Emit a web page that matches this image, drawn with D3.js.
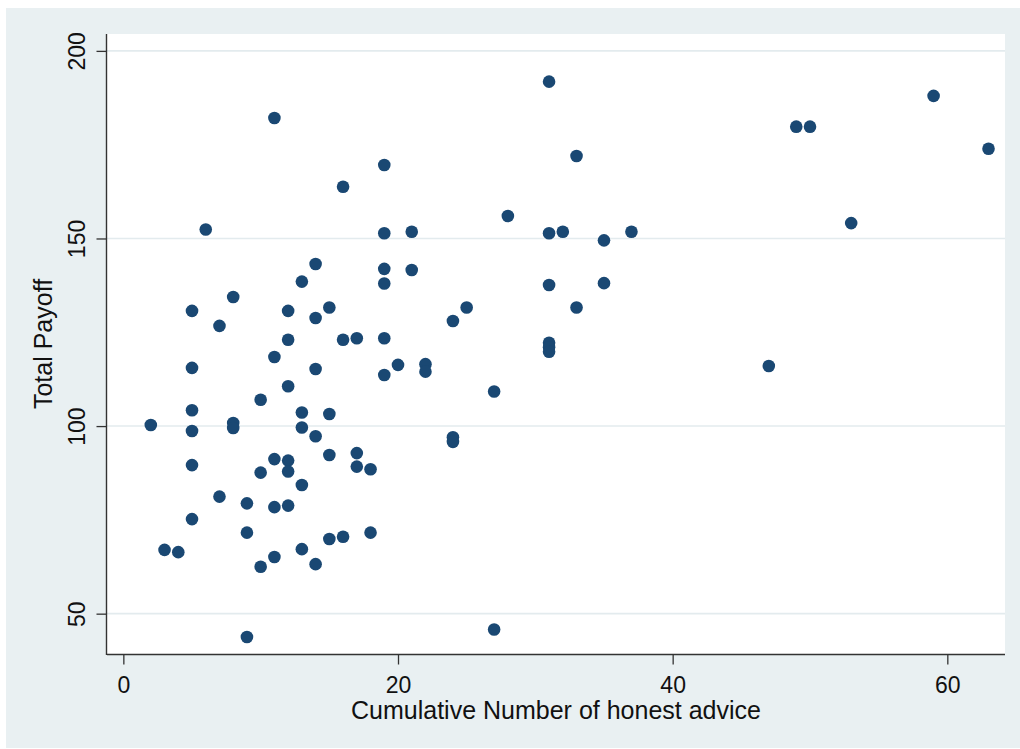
<!DOCTYPE html>
<html>
<head>
<meta charset="utf-8">
<script src="https://cdn.jsdelivr.net/npm/d3@7"></script>
<style>
  html, body { margin: 0; padding: 0; background: #ffffff; }
  svg { display: block; }
  text { font-family: "Liberation Sans", Arial, sans-serif; fill: #111; }
</style>
</head>
<body>
<svg id="chart" width="1020" height="749"></svg>
<script>
// Cumulative number of honest advice given (x) and the resulting total payoff (y)
const honestAdvice = [
  2, 3, 4,
  5, 5, 5, 5, 5, 5,
  6,
  7, 7,
  8, 8, 8,
  9, 9, 9,
  10, 10, 10,
  11, 11, 11, 11, 11,
  12, 12, 12, 12, 12, 12,
  13, 13, 13, 13, 13,
  14, 14, 14, 14, 14,
  15, 15, 15, 15,
  16, 16, 16,
  17, 17, 17,
  18, 18,
  19, 19, 19, 19, 19, 19,
  20,
  21, 21,
  22, 22,
  24, 24, 24,
  25,
  27, 27,
  28,
  31, 31, 31, 31, 31, 31,
  32,
  33, 33,
  35, 35,
  37,
  47, 49, 50, 53, 59, 63
];
const totalPayoff = [
  100.3, 67.0, 66.4,
  130.7, 115.5, 104.2, 98.7, 89.6, 75.2,
  152.4,
  126.7, 81.2,
  134.4, 100.8, 99.5,
  79.4, 71.6, 43.8,
  107.0, 87.6, 62.5,
  182.1, 118.4, 91.2, 78.4, 65.1,
  130.7, 123.0, 110.6, 90.8, 87.9, 78.8,
  138.5, 103.6, 99.6, 84.3, 67.2,
  143.2, 128.8, 115.2, 97.3, 63.2,
  131.6, 103.2, 92.3, 69.9,
  163.8, 123.0, 70.5,
  123.4, 92.8, 89.2,
  88.5, 71.6,
  169.6, 151.4, 141.9, 138.0, 123.4, 113.6,
  116.3,
  151.8, 141.6,
  116.5, 114.5,
  128.0, 97.0, 95.8,
  131.6,
  109.2, 45.8,
  156.0,
  191.8, 151.4, 137.6, 122.2, 121.0, 119.8,
  151.8,
  172.0, 131.6,
  149.5, 138.1,
  151.8,
  116.0, 179.8, 179.8, 154.1, 188.0, 173.9
];
const xTicks = [0, 20, 40, 60];
const yTicks = [50, 100, 150, 200];
const xTitle = "Cumulative Number of honest advice";
const yTitle = "Total Payoff";

const svg = d3.select("#chart");
const plot = { left: 107, right: 1005, top: 34, bottom: 654 };

// outer graph region
svg.append("rect")
  .attr("x", 6).attr("y", 8)
  .attr("width", 1014).attr("height", 740)
  .attr("fill", "#e9f0f2");

// inner plot region
svg.append("rect")
  .attr("x", plot.left).attr("y", plot.top)
  .attr("width", plot.right - plot.left).attr("height", plot.bottom - plot.top)
  .attr("fill", "#ffffff");

const x = d3.scaleLinear().domain([-1.19, 64.2]).range([plot.left, plot.right]);
const y = d3.scaleLinear().domain([39.25, 204.5]).range([plot.bottom, plot.top]);

// horizontal gridlines
svg.append("g")
  .selectAll("line")
  .data(yTicks)
  .join("line")
  .attr("x1", plot.left).attr("x2", plot.right)
  .attr("y1", d => y(d)).attr("y2", d => y(d))
  .attr("stroke", "#e3ebee")
  .attr("stroke-width", 1.6);

// points
const points = honestAdvice.map((v, i) => ({ x: v, y: totalPayoff[i] }));
svg.append("g")
  .selectAll("circle")
  .data(points)
  .join("circle")
  .attr("cx", d => x(d.x))
  .attr("cy", d => y(d.y))
  .attr("r", 6.3)
  .attr("fill", "#1a4873");

// x axis
const xAxis = svg.append("g")
  .attr("transform", `translate(0,${plot.bottom + 0.5})`)
  .call(d3.axisBottom(x).tickValues(xTicks).tickFormat(d3.format("d")).tickSize(10).tickPadding(12.5));
xAxis.select(".domain")
  .attr("d", `M${plot.left},0H${plot.right}`)
  .attr("stroke", "#333").attr("stroke-width", 1.4);
xAxis.selectAll(".tick line").attr("stroke", "#333").attr("stroke-width", 1.3);
xAxis.selectAll(".tick text")
  .attr("font-size", "23px")
  .style("font-family", '"Liberation Sans", Arial, sans-serif')
  .attr("fill", "#111");

// y axis with rotated tick labels
const yAxis = svg.append("g")
  .attr("transform", `translate(${plot.left - 0.5},0)`)
  .call(d3.axisLeft(y).tickValues(yTicks).tickFormat(d3.format("d")).tickSize(10));
yAxis.select(".domain")
  .attr("d", `M0,${plot.top}V${plot.bottom + 1}`)
  .attr("stroke", "#333").attr("stroke-width", 1.4);
yAxis.selectAll(".tick line").attr("stroke", "#333").attr("stroke-width", 1.3);
yAxis.selectAll(".tick text")
  .attr("transform", "rotate(-90)")
  .attr("x", 0).attr("y", -22).attr("dy", 0)
  .attr("text-anchor", "middle")
  .attr("font-size", "23px")
  .style("font-family", '"Liberation Sans", Arial, sans-serif')
  .attr("fill", "#111");

// axis titles
svg.append("text")
  .attr("x", (plot.left + plot.right) / 2)
  .attr("y", 719)
  .attr("text-anchor", "middle")
  .attr("font-size", "25px")
  .text(xTitle);

svg.append("text")
  .attr("transform", `translate(52,${(plot.top + plot.bottom) / 2}) rotate(-90)`)
  .attr("text-anchor", "middle")
  .attr("font-size", "25px")
  .text(yTitle);
</script>
</body>
</html>
